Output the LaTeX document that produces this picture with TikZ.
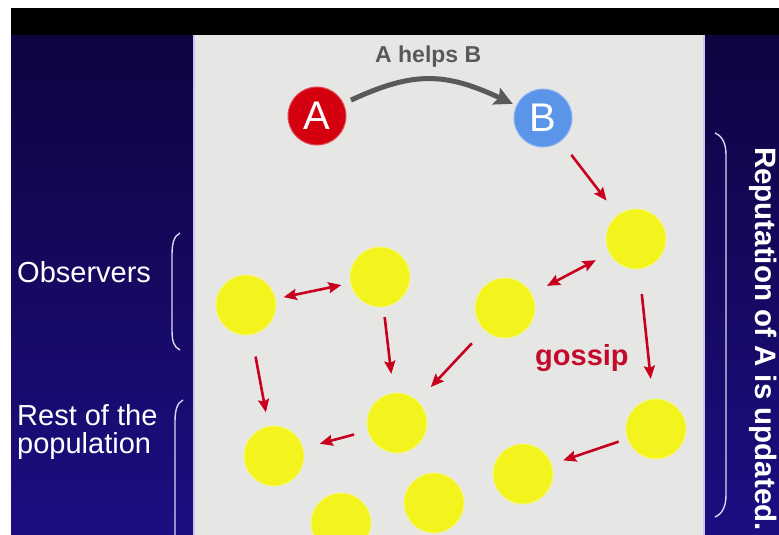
\documentclass[tikz,border=0pt]{standalone}
\usepackage{fontspec}
\setmainfont{Liberation Sans}
\usetikzlibrary{arrows.meta}
\definecolor{navytop}{HTML}{0E0440}
\definecolor{navybot}{HTML}{1C0E82}
\definecolor{panel}{HTML}{E6E7E4}
\definecolor{edgec}{HTML}{CFC6EE}
\definecolor{bracketc}{HTML}{DCD4F4}
\definecolor{yell}{HTML}{F3F31E}
\definecolor{arrred}{HTML}{C8001E}
\definecolor{gossipred}{HTML}{C40A2A}
\definecolor{helpgray}{HTML}{595959}
\definecolor{ared}{HTML}{D4000F}
\definecolor{bblue}{HTML}{5B95EA}
\begin{document}
\begin{tikzpicture}[x=1pt,y=1pt,
  >={Stealth[length=13pt,width=11pt,inset=2pt]},
  agent/.style={circle, inner sep=0pt, minimum size=60pt, fill=yell, draw=yell!55!white, line width=0.8pt},
  actor/.style={circle, inner sep=0pt, minimum size=58pt, text=white, line width=1pt,
                font=\fontsize{40}{40}\selectfont},
  redarrow/.style={draw=arrred, line width=2.6pt},
  grayarrow/.style={draw=helpgray, line width=5pt, -{Stealth[length=18pt,width=18pt,inset=3pt]}},
  bracket/.style={draw=bracketc, line width=1.4pt},
  sidelabel/.style={text=white, inner sep=0pt, font=\fontsize{29}{28}\selectfont, align=left}]
\useasboundingbox (0,0) rectangle (779,-535);
\clip (0,0) rectangle (779,-535);
% backdrop: margins, title band, dark slide, light panel
\fill[white] (0,0) rectangle (779,-535);
\shade[top color=navytop, bottom color=navybot] (11,-35) rectangle (779,-535);
\fill[black] (11,-8) rectangle (779,-35);
\fill[panel] (194,-35) rectangle (704,-535);
\draw[edgec, line width=2pt] (194,-35) -- (194,-535) (704,-35) -- (704,-535);

% the helping pair
\node[actor, fill=ared, draw=ared!70!white] (A) at (317,-116) {A};
\node[actor, fill=bblue, draw=bblue!70!white] (B) at (543,-118) {B};
\node[text=helpgray, inner sep=0pt, anchor=base west, font=\bfseries\fontsize{23}{23}\selectfont]
  (help) at (375,-63) {A helps B};
\draw[grayarrow, shorten <=8pt, shorten >=4pt] (A) to[out=25, in=155, looseness=1.15] (B);

% population
\node[agent] (Y1) at (246,-305) {};
\node[agent] (Y2) at (380,-277) {};
\node[agent] (Y3) at (636,-239) {};
\node[agent] (Y4) at (505,-308) {};
\node[agent] (Y5) at (274,-456) {};
\node[agent] (Y6) at (397,-423) {};
\node[agent] (Y7) at (656,-429) {};
\node[agent] (Y8) at (523,-474) {};
\node[agent] (Y9) at (341,-523) {};
\node[agent] (Y10) at (434,-503) {};

% information flow
\draw[redarrow, ->, shorten <=17pt, shorten >=18pt] (B) -- (Y3);
\draw[redarrow, <->, shorten <=17pt, shorten >=15pt] (Y4) -- (Y3);
\draw[redarrow, ->, shorten <=25pt, shorten >=20pt] (Y3) -- (Y7);
\draw[redarrow, <->, shorten <=8pt, shorten >=9pt] (Y1) -- (Y2);
\draw[redarrow, ->, shorten <=10pt, shorten >=19pt] (Y2) -- (Y6);
\draw[redarrow, ->, shorten <=22pt, shorten >=14pt] (Y1) -- (Y5);
\draw[redarrow, ->, shorten <=18pt, shorten >=19pt] (Y4) -- (Y6);
\draw[redarrow, ->, shorten <=14pt, shorten >=17pt] (Y6) -- (Y5);
\draw[redarrow, ->, shorten <=9pt, shorten >=12pt] (Y7) -- (Y8);

\node[text=gossipred, inner sep=0pt, anchor=base west, font=\bfseries\fontsize{29}{29}\selectfont]
  (gossip) at (535,-365) {gossip};

% side labels and brackets
\node[sidelabel, anchor=base west] (obs) at (17,-282) {Observers};
\node[sidelabel, anchor=north west] (rest) at (17,-404) {Rest of the\\population};
\draw[bracket] (180,-233) .. controls (174,-236) and (172,-243) .. (172,-255)
  -- (172,-330) .. controls (172,-342) and (174,-347) .. (180,-350);
\draw[bracket] (183,-400) .. controls (177,-403) and (175,-410) .. (175,-422) -- (175,-540);
\draw[bracket] (715,-133) .. controls (722,-136) and (726,-143) .. (726,-155)
  -- (726,-495) .. controls (726,-507) and (722,-514) .. (715,-517);
\node[text=white, inner sep=0pt, anchor=base west, rotate=-90,
      font=\bfseries\fontsize{29.5}{29.5}\selectfont] (rep) at (755,-147) {Reputation of A is updated.};
\end{tikzpicture}
\end{document}
